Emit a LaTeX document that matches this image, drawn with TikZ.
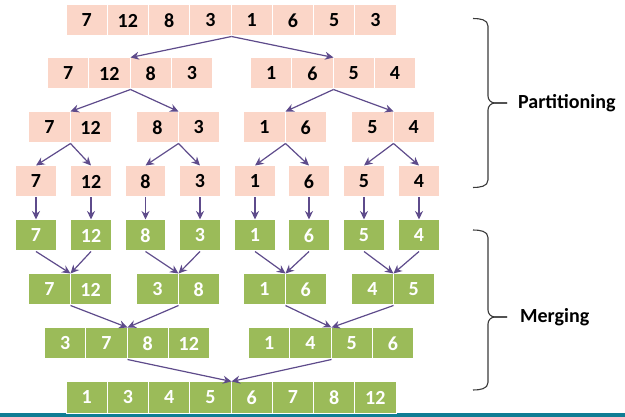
\documentclass[tikz,border=0pt]{standalone}
\usepackage{fontspec}
\setmainfont{Carlito}
\usetikzlibrary{arrows.meta}
\definecolor{pinkbox}{HTML}{FBD6C8}
\definecolor{greenbox}{HTML}{9BBB59}
\definecolor{arrowpurple}{HTML}{5E4B8B}
\definecolor{tealbar}{HTML}{0F7D94}
\definecolor{bracegray}{HTML}{3A3A3A}
\tikzset{
  cell/.style={minimum width=41.25pt, minimum height=31pt, inner sep=0pt, draw=white, line width=1pt,
    font=\fontsize{20}{23}\selectfont\bfseries},
  pcell/.style={cell, fill=pinkbox, text=black},
  gcell/.style={cell, fill=greenbox, text=white},
  scell/.style={minimum width=40.5pt},
  link/.style={draw=arrowpurple, line width=1.2pt, -{Stealth[length=8.5pt,width=8pt]}},
  brace/.style={draw=bracegray, line width=1.1pt},
  lab/.style={font=\fontsize{20}{23}\selectfont\bfseries, text=black, anchor=west, inner sep=0pt}
}
\begin{document}
\begin{tikzpicture}[x=1pt,y=-1pt]
\useasboundingbox (0,0) rectangle (625,417);
\fill[tealbar] (0,413) rectangle (625,417);

% Row 1
\foreach \v [count=\i] in {7,12,8,3,1,6,5,3}
  \node[pcell] (r1-\i) at ({66+20.625+41.25*(\i-1)},20.5) {\v};
% Row 2
\foreach \v [count=\i] in {7,12,8,3}
  \node[pcell] (r2-\i) at ({130-61.875+41.25*(\i-1)},73.5) {\v};
\foreach \v [count=\i from 5] in {1,6,5,4}
  \node[pcell] (r2-\i) at ({333-61.875+41.25*(\i-5)},73.5) {\v};
% Row 3
\foreach \s/\a/\b/\i/\j in {70/7/12/1/2, 178/8/3/3/4, 285/1/6/5/6, 393/5/4/7/8}{
  \node[pcell] (r3-\i) at ({\s-20.625},127.5) {\a};
  \node[pcell] (r3-\j) at ({\s+20.625},127.5) {\b};
}
% Row 4 and 5
\foreach \x/\v [count=\i] in {36/7,91/12,145.5/8,200/3,255/1,309/6,364/5,419/4}{
  \node[pcell,scell] (r4-\i) at (\x,181.5) {\v};
  \node[gcell,scell] (r5-\i) at (\x,235.5) {\v};
}
% Row 6
\foreach \s/\a/\b/\i/\j in {70/7/12/1/2, 178/3/8/3/4, 285/1/6/5/6, 393/4/5/7/8}{
  \node[gcell] (r6-\i) at ({\s-20.625},289.5) {\a};
  \node[gcell] (r6-\j) at ({\s+20.625},289.5) {\b};
}
% Row 7
\foreach \v [count=\i] in {3,7,8,12}
  \node[gcell] (r7-\i) at ({127-61.875+41.25*(\i-1)},343.5) {\v};
\foreach \v [count=\i from 5] in {1,4,5,6}
  \node[gcell] (r7-\i) at ({331-61.875+41.25*(\i-5)},343.5) {\v};
% Row 8
\foreach \v [count=\i] in {1,3,4,5,6,7,8,12}
  \node[gcell] (r8-\i) at ({66+20.625+41.25*(\i-1)},397.5) {\v};

% Partition arrows
\draw[link] (r1-4.south east) -- (r2-2.north east);
\draw[link] (r1-4.south east) -- (r2-6.north east);
\draw[link] (r2-2.south east) -- (r3-1.north east);
\draw[link] (r2-2.south east) -- (r3-3.north east);
\draw[link] (r2-6.south east) -- (r3-5.north east);
\draw[link] (r2-6.south east) -- (r3-7.north east);
\foreach \p/\a/\b in {1/1/2, 3/3/4, 5/5/6, 7/7/8}{
  \draw[link] (r3-\p.south east) -- (r4-\a.north);
  \draw[link] (r3-\p.south east) -- (r4-\b.north);
}
\foreach \i in {1,...,8}
  \draw[link] (r4-\i.south) -- (r5-\i.north);
% Merge arrows
\foreach \p/\a/\b in {1/1/2, 3/3/4, 5/5/6, 7/7/8}{
  \draw[link] (r5-\a.south) -- (r6-\p.north east);
  \draw[link] (r5-\b.south) -- (r6-\p.north east);
}
\draw[link] (r6-1.south east) -- (r7-2.north east);
\draw[link] (r6-3.south east) -- (r7-2.north east);
\draw[link] (r6-5.south east) -- (r7-6.north east);
\draw[link] (r6-7.south east) -- (r7-6.north east);
\draw[link] (r7-2.south east) -- (r8-4.north east);
\draw[link] (r7-6.south east) -- (r8-4.north east);

% Braces
\draw[brace] (473,18.5) to[out=0,in=90] (488,26) -- (488,96) to[out=-90,in=180] (495,103) -- (507,103);
\draw[brace] (507,103) -- (495,103) to[out=180,in=90] (488,110) -- (488,180) to[out=-90,in=0] (473,187.5);
\node[lab] (part) at (518,103) {Partitioning};

\draw[brace] (473,230) to[out=0,in=90] (488,237.5) -- (488,310) to[out=-90,in=180] (495,317) -- (507,317);
\draw[brace] (507,317) -- (495,317) to[out=180,in=90] (488,324) -- (488,382.5) to[out=-90,in=0] (473,390);
\node[lab] (merg) at (520,317) {Merging};
\end{tikzpicture}
\end{document}
